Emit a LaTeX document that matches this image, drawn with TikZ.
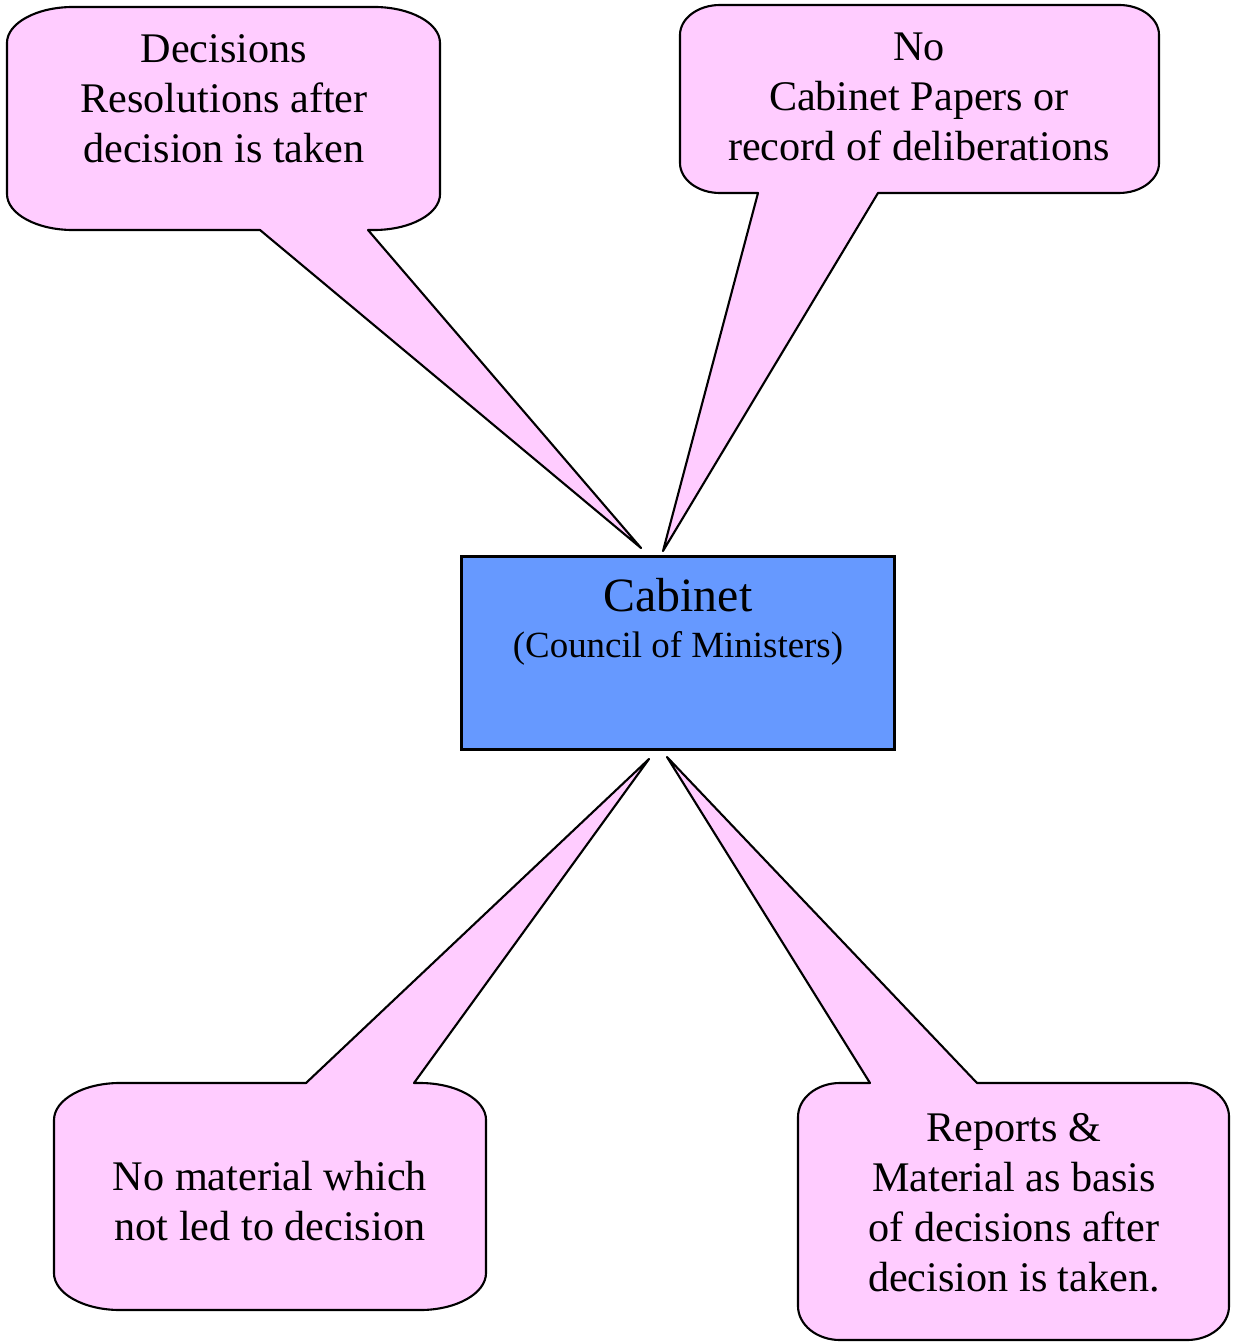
\documentclass[tikz,border=0pt]{standalone}
\usepackage{xcolor}
\usepackage{fontspec}
\setmainfont{Liberation Serif}
\usepackage{tikz}

\definecolor{bubblepink}{HTML}{FFCCFF}
\definecolor{cabblue}{HTML}{6699FF}

\begin{document}
\begin{tikzpicture}[x=0.01cm,y=-0.01cm,
    bubble/.style={draw=black,fill=bubblepink,line width=0.6pt,line join=round},
    bubbletext/.style={align=center,inner sep=0pt,font=\fontsize{12}{14.2}\selectfont},
    cabbox/.style={draw=black,fill=cabblue,line width=0.85pt,inner sep=0pt,
        minimum width=4.32cm,minimum height=1.92cm}]
    \useasboundingbox (0,0) rectangle (1233,1343);
    \node[cabbox] (cab) at (678,653) {};
    \coordinate (tipA) at (641,548);
    \coordinate (tipB) at (663,551);
    \coordinate (tipC) at (649,759);
    \coordinate (tipD) at (667,757);
    \draw[bubble] (260,230) -- (tipA) -- (368,230) -- (374,230)
        arc[start angle=-90,end angle=0,x radius=0.66cm,y radius=0.36cm] -- (440,43)
        arc[start angle=0,end angle=90,x radius=0.66cm,y radius=0.36cm] -- (73,7)
        arc[start angle=90,end angle=180,x radius=0.66cm,y radius=0.36cm] -- (7,194)
        arc[start angle=180,end angle=270,x radius=0.66cm,y radius=0.36cm] -- cycle;
    \draw[bubble] (758,193) -- (tipB) -- (878,193) -- (1119,193)
        arc[start angle=-90,end angle=0,x radius=0.4cm,y radius=0.3cm] -- (1159,35)
        arc[start angle=0,end angle=90,x radius=0.4cm,y radius=0.3cm] -- (720,5)
        arc[start angle=90,end angle=180,x radius=0.4cm,y radius=0.3cm] -- (680,163)
        arc[start angle=180,end angle=270,x radius=0.4cm,y radius=0.3cm] -- cycle;
    \draw[bubble] (306,1083) -- (tipC) -- (414,1083) -- (420,1083)
        arc[start angle=90,end angle=0,x radius=0.66cm,y radius=0.37cm] -- (486,1273)
        arc[start angle=0,end angle=-90,x radius=0.66cm,y radius=0.37cm] -- (120,1310)
        arc[start angle=-90,end angle=-180,x radius=0.66cm,y radius=0.37cm] -- (54,1120)
        arc[start angle=180,end angle=90,x radius=0.66cm,y radius=0.37cm] -- cycle;
    \draw[bubble] (870,1083) -- (tipD) -- (977,1083) -- (1187,1083)
        arc[start angle=90,end angle=0,x radius=0.42cm,y radius=0.34cm] -- (1229,1306)
        arc[start angle=0,end angle=-90,x radius=0.42cm,y radius=0.34cm] -- (840,1340)
        arc[start angle=-90,end angle=-180,x radius=0.42cm,y radius=0.34cm] -- (798,1117)
        arc[start angle=180,end angle=90,x radius=0.42cm,y radius=0.34cm] -- cycle;
    \node[bubbletext] (decisions) at (224,99) {Decisions\\Resolutions after\\decision is taken};
    \node[bubbletext] (nopapers) at (919,97) {No\\Cabinet Papers or\\record of deliberations};
    \node[bubbletext] (nomaterial) at (270,1201) {No material which\\not led to decision};
    \node[bubbletext] (reports) at (1014,1203) {Reports \&\\Material as basis\\of decisions after\\decision is taken.};
    \node[anchor=base,inner sep=0pt,font=\fontsize{13.6}{16}\selectfont] (cabname) at (678,611) {Cabinet};
    \node[anchor=base,inner sep=0pt,font=\fontsize{10.5}{12.6}\selectfont] (cabsub) at (678,657) {(Council of Ministers)};
\end{tikzpicture}
\end{document}
